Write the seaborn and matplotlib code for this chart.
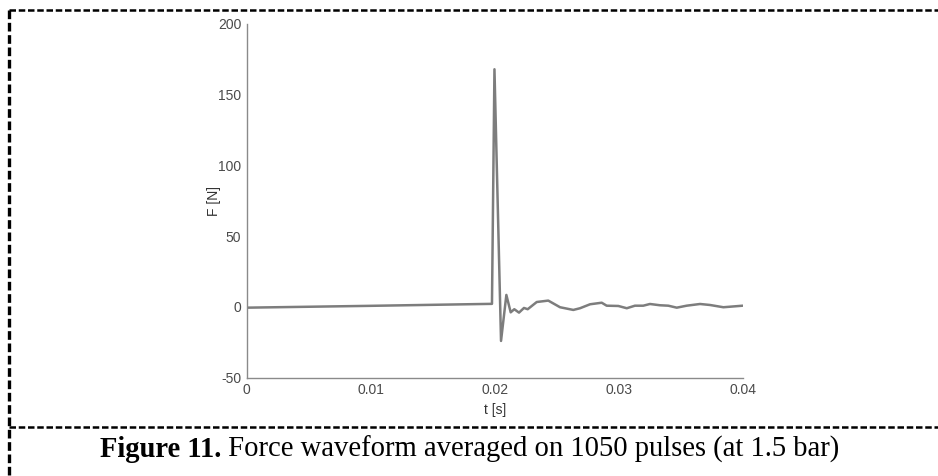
import matplotlib
matplotlib.use("Agg")
import matplotlib.pyplot as plt
import seaborn as sns
import numpy as np
import pandas as pd
from matplotlib.lines import Line2D

# ---- data ----
t_s = [0.0, 0.0100, 0.01978, 0.01998, 0.02051, 0.02094, 0.02129, 0.02158,
       0.02196, 0.02236, 0.02266, 0.02339, 0.02432, 0.02527, 0.02634, 0.02688,
       0.02769, 0.02863, 0.02903, 0.02997, 0.03065, 0.03131, 0.03198, 0.03252,
       0.03333, 0.03400, 0.03468, 0.03548, 0.03656, 0.03736, 0.03844, 0.04000]
force_N = [-0.5, 0.8, 2.2, 168.0, -24.0, 8.5, -3.8, -1.6,
           -4.0, -0.7, -1.6, 3.5, 4.5, -0.2, -2.1, -0.9,
           1.9, 3.0, 0.9, 0.7, -0.9, 0.9, 0.9, 2.1,
           1.2, 0.9, -0.5, 0.9, 2.1, 1.4, -0.2, 0.9]
x_ticks = [0, 0.01, 0.02, 0.03, 0.04]
x_tick_labels = ["0", "0.01", "0.02", "0.03", "0.04"]
y_ticks = [-50, 0, 50, 100, 150, 200]
y_tick_labels = ["-50", "0", "50", "100", "150", "200"]
caption_bold = "Figure 11."
caption_rest = " Force waveform averaged on 1050 pulses (at 1.5 bar)"

sns.set_style("white")
plt.rcParams["font.family"] = ["Liberation Sans", "DejaVu Sans"]

df = pd.DataFrame({"t": t_s, "F": force_N})

fig = plt.figure(figsize=(9.38, 4.76), dpi=100)
ax = fig.add_axes([0.263, 0.2065, 0.7918 - 0.263, 0.9496 - 0.2065])

sns.lineplot(data=df, x="t", y="F", ax=ax, color="#7d7d7d", linewidth=1.8,
             estimator=None, sort=False)

ax.set_xlim(0, 0.04)
ax.set_ylim(-50, 200)
ax.set_xticks(x_ticks)
ax.set_xticklabels(x_tick_labels)
ax.set_yticks(y_ticks)
ax.set_yticklabels(y_tick_labels)

for side in ["top", "right"]:
    ax.spines[side].set_visible(False)
for side in ["left", "bottom"]:
    ax.spines[side].set_color("#8a8a8a")
    ax.spines[side].set_linewidth(1.0)

ax.tick_params(axis="both", direction="in", length=4, width=0.8,
               colors="#8a8a8a", labelcolor="#4a4a4a", labelsize=10, pad=4)
ax.set_xlabel("t [s]", fontsize=10, color="#333333", labelpad=4)
ax.set_ylabel("F [N]", fontsize=10, color="#333333", labelpad=-2)

# ---- dashed frame lines (figure pixel coords -> fraction) ----
W, H = 938.0, 476.0
def fx(px):
    return px / W
def fy(py):
    return 1 - py / H

dash_kw = dict(color="black", linewidth=1.8, linestyle=(0, (2.6, 1.1)),
               transform=fig.transFigure)
fig.add_artist(Line2D([fx(9), fx(938)], [fy(10), fy(10)], **dash_kw))
fig.add_artist(Line2D([fx(9), fx(9)], [fy(10), fy(476)],
                      **{**dash_kw, "linewidth": 2.4}))
fig.add_artist(Line2D([fx(9), fx(938)], [fy(427), fy(427)], **dash_kw))

# ---- caption ----
cap_kw = dict(fontsize=20.6, color="black", va="baseline",
              family=["Liberation Serif", "DejaVu Serif"])
tb = fig.text(fx(100), fy(457), caption_bold, fontweight="bold", **cap_kw)
fig.canvas.draw()
bb = tb.get_window_extent(renderer=fig.canvas.get_renderer())
fig.text(bb.x1 / W, fy(457), caption_rest, **cap_kw)

fig.savefig("out.png", dpi=100)
